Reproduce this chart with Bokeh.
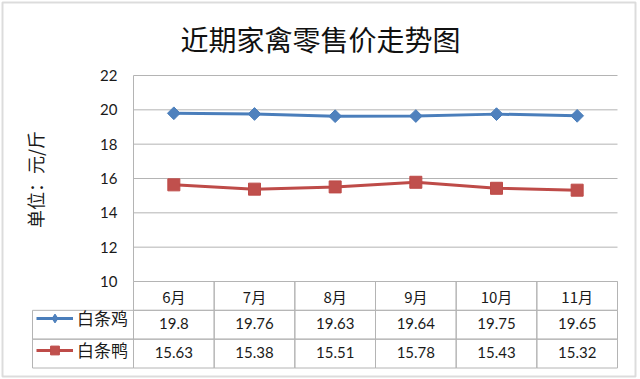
import numpy as np
from bokeh.plotting import figure
from bokeh.models import (Range1d, FixedTicker, Label, BoxAnnotation, Legend, LegendItem)
from bokeh.core.properties import value
from bokeh.embed import file_html
from bokeh.resources import INLINE

# ---- data ----
months = ["6月", "7月", "8月", "9月", "10月", "11月"]
chicken_name = "白条鸡"
duck_name = "白条鸭"
chicken = [19.8, 19.76, 19.63, 19.64, 19.75, 19.65]
duck = [15.63, 15.38, 15.51, 15.78, 15.43, 15.32]
y_ticks = [10, 12, 14, 16, 18, 20, 22]
title_text = "近期家禽零售价走势图"
y_label = "单位：元/斤"

# ---- layout (pixels from top-left of the 640x379 canvas) ----
W, H = 640, 379
PL, PR, PT, PB = 133, 617, 75, 281          # plot area
LEG_L = 32                                  # left edge of legend column
ROW_H = (367.5 - PB) / 3                    # table row height
n = len(months)
colw = (PR - PL) / n
ypx = (PB - PT) / (y_ticks[-1] - y_ticks[0])

blue_line, blue_fill = "#4A7EBB", "#4F81BD"
red_line, red_fill = "#BE4B48", "#C0504D"
grid_c = "#B4B4B4"
txt_c = "#1A1A1A"
CJK = "Noto Sans CJK SC"

x_range = Range1d(-PL / colw, (W - PL) / colw)
y_range = Range1d(y_ticks[0] - (H - PB) / ypx, y_ticks[-1] + PT / ypx)

p = figure(width=W, height=H, x_range=x_range, y_range=y_range,
           output_backend="svg", toolbar_location=None, min_border=0)
p.extra_y_ranges = {"table": Range1d((H - PB) / ROW_H, -PB / ROW_H)}
p.background_fill_color = "white"
p.border_fill_color = "white"
p.outline_line_color = None
p.xgrid.visible = False
p.ygrid.visible = False

xc = [i + 0.5 for i in range(n)]

# x axis = table header
p.xaxis.fixed_location = y_ticks[0]
p.xaxis.ticker = FixedTicker(ticks=xc)
p.xaxis.major_label_overrides = {x: m for x, m in zip(xc, months)}
p.xaxis.axis_line_color = None
p.xaxis.major_tick_line_color = None
p.xaxis.minor_tick_line_color = None
p.xaxis.major_tick_out = 0
p.xaxis.major_tick_in = 0
p.xaxis.major_label_standoff = 4
p.xaxis.major_label_text_font = CJK
p.xaxis.major_label_text_font_size = "15px"
p.xaxis.major_label_text_color = txt_c

# y axis at the left of the plot area
p.yaxis.fixed_location = 0
p.yaxis.bounds = (y_ticks[0], y_ticks[-1])
p.yaxis.ticker = FixedTicker(ticks=y_ticks)
p.yaxis.axis_line_color = grid_c
p.yaxis.major_tick_line_color = None
p.yaxis.minor_tick_line_color = None
p.yaxis.major_tick_out = 0
p.yaxis.major_tick_in = 0
p.yaxis.major_label_standoff = 16
p.yaxis.major_label_text_font = "Lato"
p.yaxis.major_label_text_font_size = "15px"
p.yaxis.major_label_text_color = txt_c

# horizontal gridlines over the plot area
p.segment(x0=[0] * len(y_ticks), x1=[n] * len(y_ticks), y0=y_ticks, y1=y_ticks,
          line_color=grid_c, line_width=1)

# series
r1 = p.line(xc, chicken, line_color=blue_line, line_width=3)
m1 = p.scatter(xc, chicken, marker="square", angle=np.pi / 4, size=9,
               fill_color=blue_fill, line_color=blue_line)
r2 = p.line(xc, duck, line_color=red_line, line_width=3)
m2 = p.scatter(xc, duck, marker="square", size=12,
               fill_color=red_fill, line_color=red_line)
# legend-only swatch marker (legend swatches are drawn unrotated); not drawn in the plot
leg_d = p.scatter(x=[float("nan")], y=[float("nan")], marker="diamond", size=9,
                  fill_color=blue_fill, line_color=blue_line)

# table cells
xleg = (LEG_L - PL) / colw
lefts, rights, tops, bottoms = [], [], [], []
for i in range(n):
    lefts.append(i); rights.append(i + 1); tops.append(0); bottoms.append(1)
for r in (1, 2):
    lefts.append(xleg); rights.append(0); tops.append(r); bottoms.append(r + 1)
    for i in range(n):
        lefts.append(i); rights.append(i + 1); tops.append(r); bottoms.append(r + 1)
p.quad(left=lefts, right=rights, top=tops, bottom=bottoms, y_range_name="table",
       fill_color=None, line_color=grid_c, line_width=1)

# table values
for r, series in ((1, chicken), (2, duck)):
    p.text(x=xc, y=[r + 0.45] * n, text=[str(v) for v in series], y_range_name="table",
           text_align="center", text_baseline="middle", text_font=value("Lato"),
           text_font_size="15px", text_color=txt_c)

# legend in the table's first column
legend = Legend(items=[LegendItem(label=chicken_name, renderers=[r1, leg_d]),
                       LegendItem(label=duck_name, renderers=[r2, m2])],
                location=(36, H - 311 - 51), orientation="vertical",
                padding=0, margin=0, spacing=7, glyph_width=37, glyph_height=22,
                label_height=22, label_standoff=4, border_line_color=None,
                background_fill_alpha=0, label_text_font=CJK,
                label_text_font_size="17px", label_text_color=txt_c)
p.add_layout(legend)

# title and unit label
p.add_layout(Label(x=W / 2, y=H - 38, x_units="screen", y_units="screen", text=title_text,
                   text_align="center", text_baseline="middle", text_font=CJK,
                   text_font_size="28px", text_color="#111111"))
p.add_layout(Label(x=34, y=H - 179, x_units="screen", y_units="screen", text=y_label,
                   angle=np.pi / 2, text_align="center", text_baseline="middle",
                   text_font=CJK, text_font_size="18px", text_color=txt_c))

# outer border
p.add_layout(BoxAnnotation(left=2, right=635, top=H - 2, bottom=H - 376,
                           left_units="screen", right_units="screen",
                           top_units="screen", bottom_units="screen",
                           fill_color=None, line_color="#8A8A8A", line_width=2))

open("out.html", "w").write(file_html(p, INLINE))
